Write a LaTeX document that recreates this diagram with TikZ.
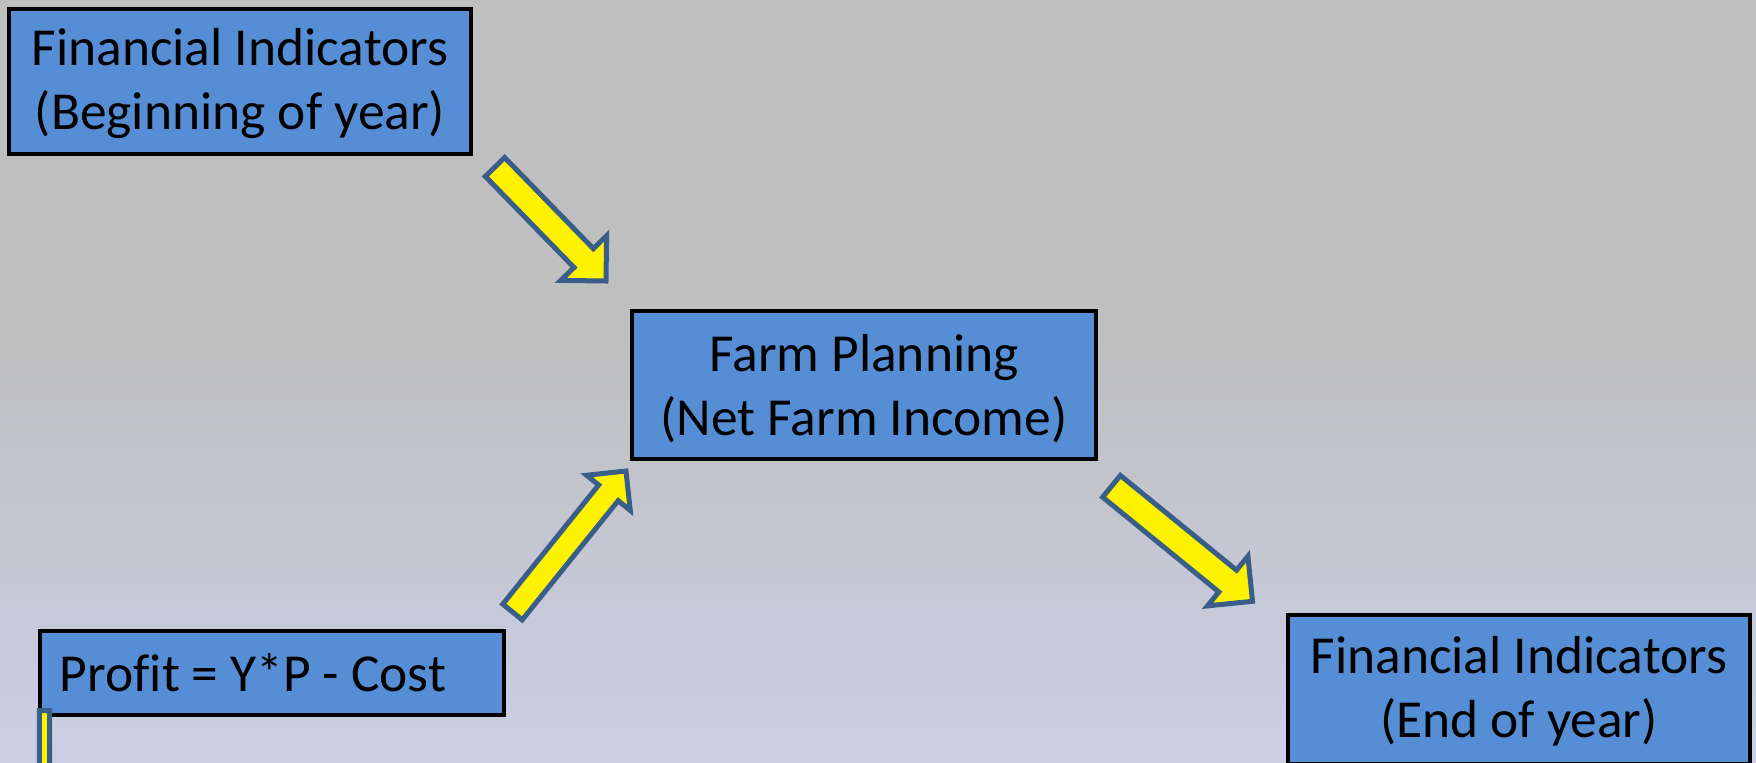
\documentclass[tikz,border=0pt]{standalone}
\usepackage{fontspec}
\setmainfont{Carlito}[Ligatures=CommonOff]
\usetikzlibrary{calc}

\definecolor{boxblue}{RGB}{85,142,213}
\definecolor{arrowedge}{RGB}{58,94,138}
\definecolor{bgtop}{RGB}{191,191,191}
\definecolor{bgbottom}{RGB}{202,207,228}

% block arrow from tail #1 to tip #2, half shaft #3, half head #4
\newcommand{\blockarrow}[4]{%
  \coordinate (neck) at ($(#2)!#4!(#1)$);
  \draw[flowarrow] ($(#1)!#3!90:(#2)$) -- ($(neck)!#3!90:(#2)$) -- ($(neck)!#4!90:(#2)$) -- (#2)
    -- ($(neck)!#4!-90:(#2)$) -- ($(neck)!#3!-90:(#2)$) -- ($(#1)!#3!-90:(#2)$) -- cycle;
}

\begin{document}
\begin{tikzpicture}[x=0.01cm,y=-0.01cm,
    box/.style={draw=black,line width=0.045cm,fill=boxblue,align=center,
      font=\fontsize{15.2}{18.2}\selectfont,inner sep=0pt},
    twoline/.style={text height=1.1cm,text depth=0.15cm},
    tightwords/.style={execute at begin node={\spaceskip=0.12cm\relax}},
    flowarrow/.style={draw=arrowedge,fill=yellow,line width=0.05cm,line join=miter}]
        \useasboundingbox (0,0) rectangle (1756,763);
        % Background
        \fill[bgtop] (0,0) rectangle (1756,331);
        \shade[top color=bgtop,bottom color=bgbottom] (0,330) rectangle (1756,763);
        % Boxes
        \node[box,twoline,minimum width=4.62cm,minimum height=1.45cm] (fibegin) at (240,81.5)
          {Financial Indicators\\(Beginning of year)};
        \node[box,twoline,text height=1.14cm,text depth=0.13cm,minimum width=4.64cm,minimum height=1.48cm] (planning) at (864,385)
          {Farm Planning\\(Net Farm Income)};
        \node[box,tightwords,minimum height=0.84cm,text width=4.24cm,align=left,inner xsep=0.2cm] (profit) at (272,673)
          {Profit = Y*P - Cost};
        \node[box,twoline,minimum width=4.62cm,minimum height=1.49cm] (fiend) at (1519,689.5)
          {Financial Indicators\\(End of year)};
        % Arrows
        \coordinate (begintail) at (495,167);
        \coordinate (begintip) at (606,281);
        \coordinate (profittail) at (512.5,612);
        \coordinate (profittip) at (626,471);
        \coordinate (endtail) at (1111.5,486.3);
        \coordinate (endtip) at (1252.5,601.3);
        \coordinate (bartail) at (44.5,710.5);
        \coordinate (bartip) at (44.5,900);
        \blockarrow{begintail}{begintip}{0.135cm}{0.32cm}
        \blockarrow{profittail}{profittip}{0.125cm}{0.28cm}
        \blockarrow{endtail}{endtip}{0.14cm}{0.32cm}
        \blockarrow{bartail}{bartip}{0.05cm}{0.12cm}
\end{tikzpicture}
\end{document}
